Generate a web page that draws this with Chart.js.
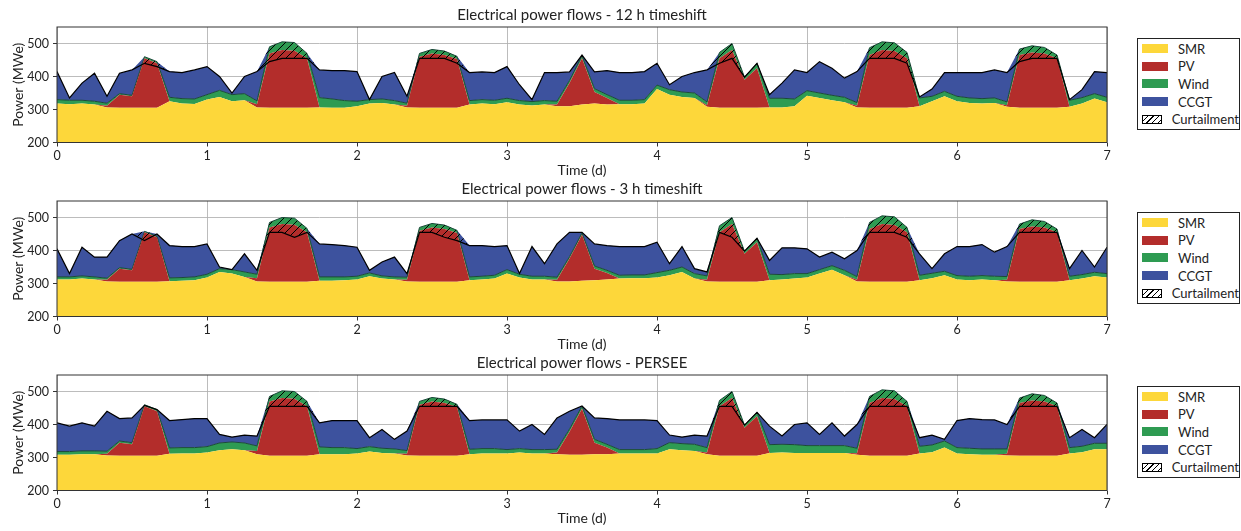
<html>
  <head>
    <script src="https://cdn.jsdelivr.net/npm/chart.js"></script>
    <meta charset="UTF-8" />
    <style>
      body { margin: 0; width: 1241px; height: 531px; overflow: hidden; background: #fff; position: relative; font-family: Lato, "Open Sans", sans-serif; }
      .panel { position: absolute; left: 0; }
      .legend { position: absolute; left: 1137px; width: 103px; height: 92px; box-sizing: border-box; border: 1px solid #222; background: #fff; padding-top: 1px; font-size: 13px; color: #222; }
      .item { height: 17.6px; display: flex; align-items: center; }
      .sw { width: 26px; height: 9px; margin-left: 4px; margin-right: 10px; box-sizing: border-box; }
      .hatch { border: 1px solid #000; background: repeating-linear-gradient(135deg, #fff 0 3px, #000 3px 4px); }
    </style>
  </head>
  <body>
    <div class="panel" style="top:0px"><canvas id="p1" width="1125" height="180"></canvas></div>
    <div class="panel" style="top:174px"><canvas id="p2" width="1125" height="180"></canvas></div>
    <div class="panel" style="top:348px"><canvas id="p3" width="1125" height="180"></canvas></div>
    <script>
      // time axis in days, one value every 2 h
      const hours = Array.from({ length: 85 }, (_, i) => i / 12);

      // PV production (MWe), same sun for all three runs
      const pv = [
        0, 0, 0, 0, 5, 40, 35, 150, 135, 0, 0, 0,
        0, 0, 0, 0, 10, 165, 175, 173, 150, 0, 0, 0,
        0, 0, 0, 0, 5, 155, 165, 160, 148, 0, 0, 0,
        0, 0, 0, 0, 5, 70, 140, 35, 20, 0, 0, 0,
        0, 0, 0, 0, 5, 150, 175, 85, 120, 0, 0, 0,
        0, 0, 0, 0, 5, 160, 175, 172, 150, 0, 0, 0,
        0, 0, 0, 0, 5, 160, 168, 165, 150, 0, 0, 0,
        0,
      ];

      // 12 h timeshift
      const smr12 = [
        318, 316, 318, 315, 306, 305, 305, 305, 305, 325, 318, 317,
        330, 338, 325, 328, 306, 305, 305, 305, 305, 306, 305, 305,
        310, 318, 320, 315, 306, 305, 305, 305, 305, 315, 318, 316,
        322, 315, 312, 315, 310, 310, 315, 318, 315, 316, 316, 318,
        362, 345, 338, 335, 308, 305, 305, 305, 305, 306, 306, 310,
        342, 335, 328, 322, 306, 305, 305, 305, 305, 310, 325, 340,
        325, 320, 318, 320, 308, 305, 305, 305, 305, 308, 318, 333,
        322,
      ];
      const wind12 = [
        12, 12, 10, 10, 8, 3, 3, 5, 5, 12, 15, 15,
        15, 20, 20, 20, 10, 20, 25, 25, 15, 30, 27, 22,
        15, 12, 12, 12, 8, 10, 12, 12, 8, 12, 12, 12,
        12, 12, 12, 12, 10, 8, 8, 10, 10, 12, 12, 12,
        12, 15, 15, 15, 10, 18, 20, 8, 15, 28, 28, 22,
        15, 15, 15, 15, 10, 22, 25, 25, 18, 25, 15, 15,
        15, 15, 15, 15, 10, 18, 20, 18, 10, 20, 18, 15,
        15,
      ];
      const ccgt12 = [
        85, 7, 52, 85, 21, 62, 77, 0, 0, 78, 79, 88,
        85, 42, 5, 52, 89, 0, 0, 0, 0, 84, 86, 91,
        90, 0, 68, 85, 21, 0, 0, 0, 0, 85, 84, 84,
        96, 48, 6, 85, 87, 26, 2, 51, 73, 84, 84, 85,
        66, 15, 47, 62, 97, 0, 0, 0, 0, 11, 46, 88,
        55, 95, 82, 58, 94, 0, 0, 0, 0, 3, 22, 57,
        72, 77, 79, 85, 89, 0, 0, 0, 0, 2, 24, 67,
        75,
      ];
      const curt12 = [
        0, 0, 0, 0, 0, 0, 0, 20, 15, 0, 0, 0,
        0, 0, 0, 0, 0, 45, 50, 48, 15, 0, 0, 0,
        0, 0, 0, 0, 0, 15, 27, 22, 21, 0, 0, 0,
        0, 0, 0, 0, 0, 0, 0, 0, 0, 0, 0, 0,
        0, 0, 0, 0, 0, 33, 45, 0, 0, 0, 0, 0,
        0, 0, 0, 0, 0, 32, 50, 47, 33, 0, 0, 0,
        0, 0, 0, 0, 0, 38, 38, 33, 10, 0, 0, 0,
        0,
      ];

      // 3 h timeshift
      const smr3 = [
        312, 312, 315, 312, 306, 305, 305, 305, 305, 307, 308, 310,
        318, 335, 330, 320, 306, 305, 305, 305, 305, 308, 308, 310,
        312, 322, 315, 312, 306, 305, 305, 305, 305, 310, 312, 315,
        330, 318, 312, 312, 306, 306, 308, 310, 312, 315, 316, 316,
        318, 325, 335, 315, 306, 305, 305, 305, 305, 310, 312, 315,
        318, 330, 342, 325, 306, 305, 305, 305, 305, 310, 316, 325,
        312, 310, 312, 310, 306, 305, 305, 305, 305, 310, 315, 322,
        318,
      ];
      const wind3 = [
        8, 8, 8, 8, 5, 3, 3, 3, 3, 10, 10, 10,
        10, 10, 12, 15, 12, 15, 20, 20, 12, 12, 12, 10,
        10, 10, 8, 8, 8, 10, 12, 12, 8, 10, 10, 10,
        12, 10, 10, 10, 8, 5, 5, 8, 8, 10, 10, 10,
        15, 15, 15, 15, 12, 20, 20, 8, 12, 18, 15, 15,
        12, 12, 12, 15, 10, 20, 25, 25, 15, 15, 15, 12,
        12, 12, 12, 12, 10, 15, 20, 18, 10, 12, 12, 12,
        12,
      ];
      const ccgt3 = [
        85, 10, 87, 60, 64, 82, 107, 0, 7, 98, 94, 92,
        92, 5, 0, 55, 12, 0, 0, 0, 0, 100, 98, 95,
        88, 8, 42, 60, 11, 0, 0, 0, 0, 95, 93, 87,
        73, 2, 90, 38, 101, 74, 2, 67, 75, 87, 86, 86,
        92, 20, 62, 15, 12, 0, 0, 0, 0, 42, 81, 78,
        75, 38, 41, 35, 79, 0, 0, 0, 0, 65, 14, 53,
        88, 90, 94, 73, 91, 0, 0, 0, 0, 23, 73, 16,
        80,
      ];
      const curt3 = [
        0, 0, 0, 0, 0, 0, 0, 28, 0, 0, 0, 0,
        0, 0, 0, 0, 0, 30, 45, 58, 12, 0, 0, 0,
        0, 0, 0, 0, 0, 15, 27, 37, 31, 0, 0, 0,
        0, 0, 0, 0, 0, 0, 0, 0, 0, 0, 0, 0,
        0, 0, 0, 0, 0, 20, 60, 0, 0, 0, 0, 0,
        0, 0, 0, 0, 0, 30, 50, 47, 30, 0, 0, 0,
        0, 0, 0, 0, 0, 25, 38, 33, 10, 0, 0, 0,
        0,
      ];

      // PERSEE
      const smrP = [
        308, 308, 310, 310, 306, 305, 305, 305, 305, 311, 312, 312,
        315, 322, 325, 322, 310, 305, 305, 305, 305, 310, 310, 310,
        312, 318, 314, 312, 306, 305, 305, 305, 305, 310, 312, 312,
        312, 315, 312, 312, 310, 308, 308, 310, 310, 312, 312, 312,
        312, 325, 322, 320, 310, 305, 305, 305, 305, 314, 315, 314,
        314, 314, 314, 314, 308, 305, 305, 305, 305, 312, 316, 330,
        312, 310, 308, 308, 306, 305, 305, 305, 305, 312, 316, 325,
        325,
      ];
      const windP = [
        10, 10, 10, 10, 8, 5, 5, 5, 5, 18, 18, 18,
        18, 22, 22, 22, 15, 15, 22, 22, 15, 22, 20, 20,
        15, 15, 14, 14, 10, 10, 12, 12, 8, 15, 15, 15,
        12, 12, 12, 12, 10, 8, 8, 10, 10, 12, 12, 12,
        15, 20, 20, 20, 15, 18, 20, 8, 12, 25, 25, 25,
        22, 22, 22, 22, 15, 20, 25, 25, 15, 22, 22, 20,
        18, 18, 18, 18, 15, 15, 20, 18, 10, 18, 18, 18,
        18,
      ];
      const ccgtP = [
        87, 77, 85, 75, 121, 68, 75, 0, 0, 83, 85, 88,
        85, 26, 15, 24, 30, 0, 0, 0, 0, 73, 82, 82,
        85, 27, 57, 29, 59, 0, 0, 0, 0, 87, 87, 87,
        90, 53, 76, 46, 95, 54, 0, 65, 78, 90, 90, 90,
        85, 23, 20, 28, 35, 0, 0, 0, 0, 56, 25, 61,
        69, 34, 69, 29, 72, 0, 0, 0, 0, 26, 30, 5,
        82, 90, 89, 88, 74, 0, 0, 0, 0, 30, 51, 17,
        57,
      ];
      const curtP = [
        0, 0, 0, 0, 0, 0, 0, 2, 0, 0, 0, 0,
        0, 0, 0, 0, 0, 30, 47, 45, 15, 0, 0, 0,
        0, 0, 0, 0, 0, 15, 27, 22, 6, 0, 0, 0,
        0, 0, 0, 0, 0, 0, 0, 0, 0, 0, 0, 0,
        0, 0, 0, 0, 0, 18, 45, 0, 0, 0, 0, 0,
        0, 0, 0, 0, 0, 30, 50, 47, 15, 0, 0, 0,
        0, 0, 0, 0, 0, 25, 38, 33, 10, 0, 0, 0,
        0,
      ];

      const colors = {
        smr: "#FDD73A",
        pv: "#B32D2B",
        wind: "#2E9B52",
        ccgt: "#3D529E",
      };
      const font = "Lato, 'Open Sans', sans-serif";

      const makeHatch = () => {
        const c = document.createElement("canvas");
        c.width = 8;
        c.height = 8;
        const g = c.getContext("2d");
        g.strokeStyle = "#000";
        g.lineWidth = 1;
        g.beginPath();
        g.moveTo(0, 8); g.lineTo(8, 0);
        g.moveTo(-2, 2); g.lineTo(2, -2);
        g.moveTo(6, 10); g.lineTo(10, 6);
        g.stroke();
        return g.createPattern(c, "repeat");
      };
      const hatch = makeHatch();

      const pts = arr => arr.map((v, i) => ({ x: hours[i], y: v }));

      // frame round the plot, like the matplotlib spines
      const frame = {
        id: "frame",
        afterDraw(chart) {
          const { ctx, chartArea: a } = chart;
          ctx.save();
          ctx.strokeStyle = "#333";
          ctx.lineWidth = 1;
          ctx.strokeRect(a.left, a.top, a.right - a.left, a.bottom - a.top);
          ctx.restore();
        },
      };

      function renderPanel(id, title, smr, wind, ccgt, curt) {
        const demand = smr.map((v, i) => v + pv[i] + wind[i] + ccgt[i] - curt[i]);
        const base = { pointRadius: 0, tension: 0, stack: "gen" };
        const datasets = [
          { ...base, label: "SMR", data: pts(smr), backgroundColor: colors.smr, borderWidth: 0, fill: "origin" },
          { ...base, label: "PV", data: pts(pv), backgroundColor: colors.pv, borderWidth: 0, fill: "-1" },
          { ...base, label: "Wind", data: pts(wind), backgroundColor: colors.wind, borderColor: "#1b4a3a", borderWidth: 1, fill: "-1" },
          { ...base, label: "CCGT", data: pts(ccgt), backgroundColor: colors.ccgt, borderWidth: 0, fill: "-1" },
          {
            label: "Curtailment",
            data: pts(demand),
            stack: "demand",
            order: -1,
            pointRadius: 0,
            tension: 0,
            borderColor: "#000",
            borderWidth: 1.2,
            backgroundColor: "rgba(0,0,0,0)",
            fill: { target: 3, above: "rgba(0,0,0,0)", below: hatch },
          },
        ];

        new Chart(document.getElementById(id), {
          type: "line",
          data: { datasets },
          plugins: [frame],
          options: {
            responsive: false,
            animation: false,
            layout: { padding: { left: 0, right: 18, top: 0, bottom: 0 } },
            scales: {
              x: {
                type: "linear",
                min: 0,
                max: 7,
                z: 1,
                border: { display: false },
                grid: { color: "rgba(176,176,176,0.85)", tickColor: "#333", tickLength: 4 },
                ticks: { stepSize: 1, padding: 2, color: "#222", font: { family: font, size: 12.5 } },
                title: { display: true, text: "Time (d)", color: "#222", font: { family: font, size: 14 }, padding: { top: 0, bottom: 1 } },
                afterFit: s => { s.height = 37.5; },
              },
              y: {
                stacked: true,
                min: 200,
                max: 550,
                z: 1,
                border: { display: false },
                grid: { color: "rgba(176,176,176,0.85)", tickColor: "#333", tickLength: 4 },
                ticks: { stepSize: 100, padding: 4, color: "#222", font: { family: font, size: 12.5 } },
                afterBuildTicks: s => { s.ticks = s.ticks.filter(t => t.value % 100 === 0); },
                title: { display: true, text: "Power (MWe)", color: "#222", font: { family: font, size: 14 }, padding: { top: 10, bottom: 0 } },
                afterFit: s => { s.width = 57; },
              },
            },
            plugins: {
              legend: { display: false },
              tooltip: { enabled: false },
              title: {
                display: true,
                text: title,
                fullSize: false,
                color: "#222",
                font: { family: font, size: 15, weight: "normal" },
                padding: { top: 6, bottom: 3 },
              },
            },
          },
        });
      }

      renderPanel("p1", "Electrical power flows - 12 h timeshift", smr12, wind12, ccgt12, curt12);
      renderPanel("p2", "Electrical power flows - 3 h timeshift", smr3, wind3, ccgt3, curt3);
      renderPanel("p3", "Electrical power flows - PERSEE", smrP, windP, ccgtP, curtP);

      // one legend box per panel
      const legendItems = [
        ["SMR", colors.smr],
        ["PV", colors.pv],
        ["Wind", colors.wind],
        ["CCGT", colors.ccgt],
        ["Curtailment", null],
      ];
      [38, 212, 386].forEach(top => {
        const box = document.createElement("div");
        box.className = "legend";
        box.style.top = top + "px";
        legendItems.forEach(([name, c]) => {
          const row = document.createElement("div");
          row.className = "item";
          const sw = document.createElement("span");
          sw.className = c ? "sw" : "sw hatch";
          if (c) sw.style.background = c;
          row.appendChild(sw);
          row.appendChild(document.createTextNode(name));
          box.appendChild(row);
        });
        document.body.appendChild(box);
      });
    </script>
  </body>
</html>
